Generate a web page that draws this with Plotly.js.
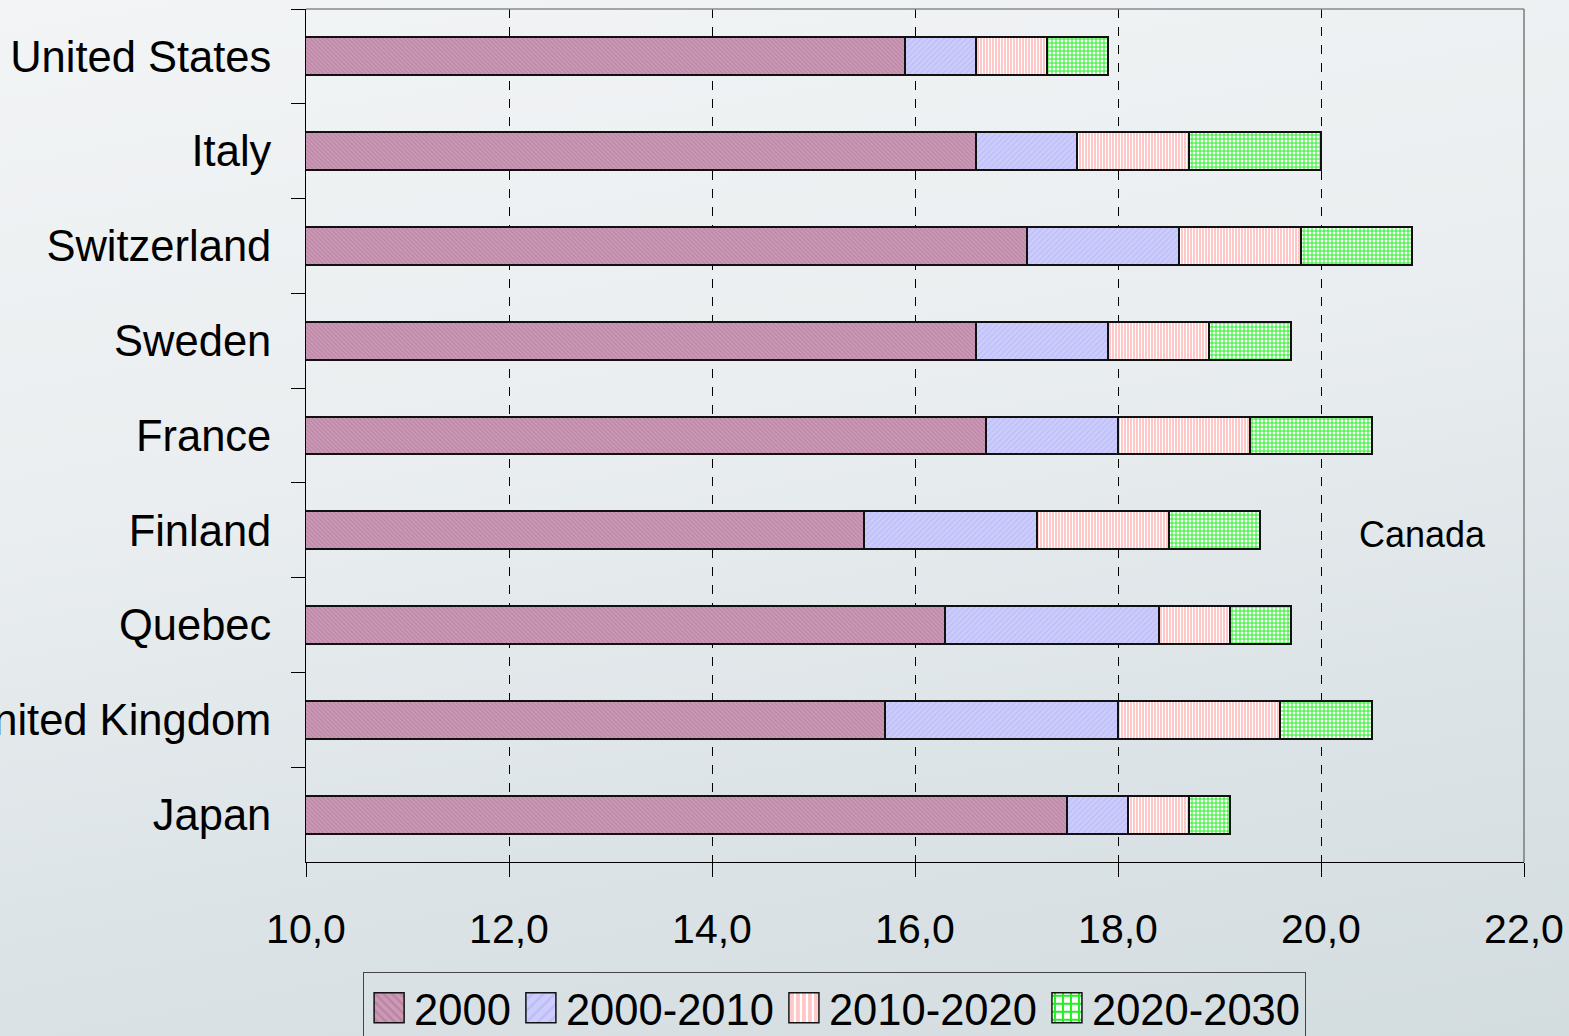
<!DOCTYPE html>
<html>
<head>
<meta charset="utf-8">
<script src="https://cdn.plot.ly/plotly-3.0.1.min.js"></script>
<style>
html,body{margin:0;padding:0;}
body{width:1569px;height:1036px;overflow:hidden;
background:linear-gradient(170deg,#f2f4f5 0%,#eaeef0 40%,#dde4e7 70%,#d3dcdf 100%);}
#chart{width:1569px;height:1036px;}
</style>
</head>
<body>
<div id="chart"></div>
<script>
// Data (top to bottom as in the picture)
const countries = ["United States","Italy","Switzerland","Sweden","France","Finland","Quebec","United Kingdom","Japan"];
const v2000     = [15.9, 16.6, 17.1, 16.6, 16.7, 15.5, 16.3, 15.7, 17.5];
const d2000_2010 = [0.7, 1.0, 1.5, 1.3, 1.3, 1.7, 2.1, 2.3, 0.6];
const d2010_2020 = [0.7, 1.1, 1.2, 1.0, 1.3, 1.3, 0.7, 1.6, 0.6];
const d2020_2030 = [0.6, 1.3, 1.1, 0.8, 1.2, 0.9, 0.6, 0.9, 0.4];
const seriesNames = ["2000","2000-2010","2010-2020","2020-2030"];
const xTicks = [10,12,14,16,18,20,22];

const outline = {color:"#111111", width:2};
const styles = [
  {bgcolor:"#cc9ab6", fgcolor:"#b985a3", shape:"\\", size:3, solidity:0.4},
  {bgcolor:"#ccccff", fgcolor:"#bdbdf2", shape:"/", size:4, solidity:0.3},
  {bgcolor:"#ffc8c8", fgcolor:"#ffffff", shape:"|", size:3, solidity:0.35},
  {bgcolor:"#ffffff", fgcolor:"#22ee22", shape:"+", size:4, solidity:0.45}
];
const values = [v2000, d2000_2010, d2010_2020, d2020_2030];

const traces = values.map((vals,i)=>({
  type:"bar", orientation:"h",
  y: countries, x: vals, name: seriesNames[i],
  marker:{color: styles[i].bgcolor, line: outline,
    pattern:{shape:styles[i].shape, fgcolor:styles[i].fgcolor, bgcolor:styles[i].bgcolor,
             size:styles[i].size, solidity:styles[i].solidity, fillmode:"replace"}},
  hoverinfo:"x+y+name"
}));

const font = "Liberation Sans, Arial, sans-serif";
const layout = {
  width:1569, height:1036,
  margin:{l:306, r:45, t:9, b:174, autoexpand:false},
  paper_bgcolor:"rgba(0,0,0,0)", plot_bgcolor:"rgba(0,0,0,0)",
  barmode:"stack", bargap:0.6,
  separators:",.",
  font:{family:font, color:"#000", size:41},
  showlegend:true,
  legend:{orientation:"h", x:0.434, xanchor:"center", y:-0.08, yanchor:"top",
    bgcolor:"rgba(0,0,0,0)", bordercolor:"#444", borderwidth:1,
    font:{family:font, size:43.5, color:"#000"}, traceorder:"normal", itemwidth:40},
  xaxis:{range:[10,22], tickvals:xTicks, tickformat:".1f", showgrid:true,
    gridcolor:"#000", griddash:"dash", gridwidth:1,
    showline:true, linecolor:"#000", linewidth:1, zeroline:false,
    ticks:"outside", ticklen:14, tickcolor:"#000", tickwidth:1,
    ticklabelstandoff:17, tickfont:{size:41, family:font}},
  yaxis:{type:"category", autorange:"reversed", tickson:"boundaries",
    showline:true, linecolor:"#000", linewidth:1, showgrid:false,
    ticks:"outside", ticklen:14, tickcolor:"#000", tickwidth:1,
    ticklabelstandoff:25, tickfont:{size:43.5, family:font}},
  shapes:[
    {type:"line", xref:"paper", yref:"paper", x0:0, x1:1, y0:1, y1:1, line:{color:"#8a8a8a", width:1.5}, layer:"above"},
    {type:"line", xref:"paper", yref:"paper", x0:1, x1:1, y0:0, y1:1, line:{color:"#7a7a7a", width:1.5}, layer:"above"}
  ],
  annotations:[
    {text:"Canada", xref:"x", yref:"y", x:21.0, y:"Finland", yshift:-4, showarrow:false,
     font:{family:font, size:36, color:"#000"}, xanchor:"center", yanchor:"middle"}
  ]
};

Plotly.newPlot("chart", traces, layout, {displayModeBar:false}).then(()=>{
  document.querySelectorAll(".legend .legendpoints path").forEach(p=>{
    const t = p.getAttribute("transform") || "";
    p.setAttribute("transform", t + " scale(2.5,2.5)");
    p.style.strokeWidth = "0.6px";
  });
  // place the legend box top at the reference position (box runs past the bottom edge)
  const lg = document.querySelector(".legend");
  if (lg) {
    const m = /translate\(\s*([-\d.]+)[ ,]+([-\d.]+)\s*\)/.exec(lg.getAttribute("transform") || "");
    if (m) lg.setAttribute("transform", "translate(" + m[1] + ",972)");
  }
});
</script>
</body>
</html>
